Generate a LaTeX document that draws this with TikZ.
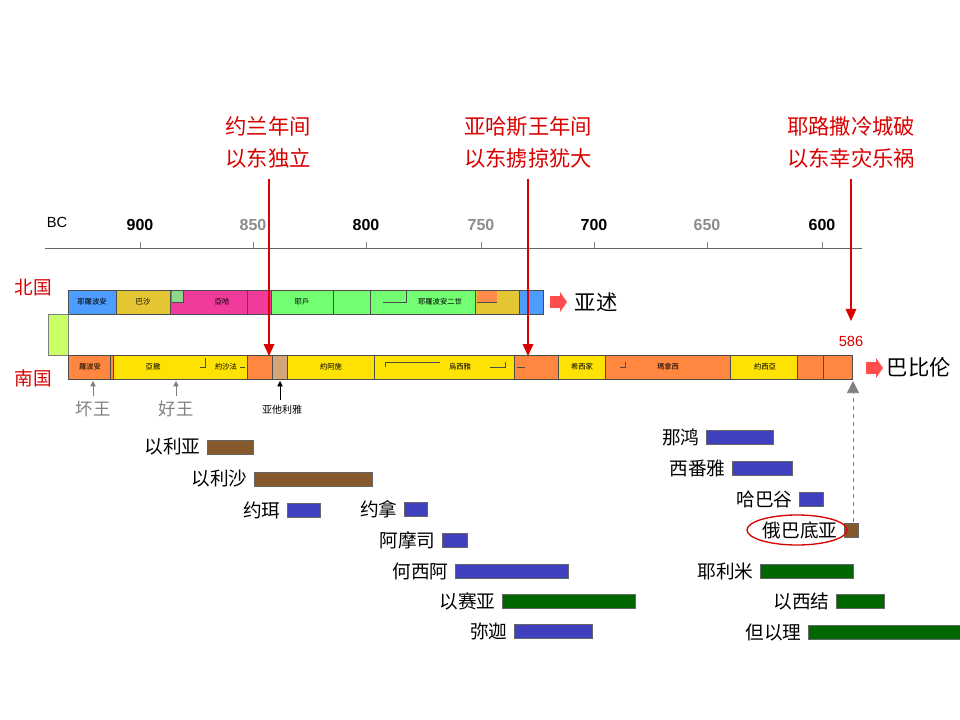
\documentclass[tikz,border=0pt]{standalone}
\usepackage{fontspec}
\usetikzlibrary{arrows.meta}
\setmainfont{Liberation Sans}
\newfontfamily\scfont{Noto Sans CJK SC}
\newfontfamily\tcfont{Noto Sans CJK TC}
\begin{document}
\begin{tikzpicture}[x=0.75pt,y=-0.75pt,
 seg/.style={draw=black!70,line width=0.5pt},
 lab/.style={font=\scfont\fontsize{14}{16}\selectfont,anchor=east,inner sep=1pt},
 tiny/.style={font=\tcfont\fontsize{5.5}{6}\selectfont,inner sep=0},
 top/.style={font=\scfont\fontsize{16}{24}\selectfont,text=red!85!black,align=center},
 redarr/.style={draw=red!85!black,line width=0.8pt,-{Triangle[width=8pt,length=9pt]}},
 pb/.style={line width=0.4pt,draw=black!60}]
\useasboundingbox (0,0) rectangle (960,720);
% axis
\draw[black!60] (45,248) -- (862,248);
\foreach \x/\l/\c in {140/900/black,253/850/black!45,366/800/black,481/750/black!45,594/700/black,707/650/black!45,822/600/black}{
 \draw[black!50] (\x,248) -- (\x,242);
 \node[font=\fontsize{12}{14}\selectfont\bfseries,text=\c] at (\x,225) {\l};}
\node[font=\fontsize{11}{13}\selectfont] at (57,222) {BC};
% north bar
\fill[blue!55!cyan!70] (68,290) rectangle (116,314);
\fill[yellow!55!brown] (116,290) rectangle (170,314);
\fill[magenta!70!pink] (170,290) rectangle (271,314);
\fill[green!50!gray!60] (172,290) rectangle (183,302);
\fill[green!55] (271,290) rectangle (475,314);
\fill[yellow!55!brown] (475,290) rectangle (519,314);
\fill[orange!70!red!70] (477,290) rectangle (497,302);
\fill[blue!55!cyan!70] (519,290) rectangle (543,314);
\foreach \x in {116,170,247,271,333,370,475,519}{\draw[seg] (\x,290) -- (\x,314);}
\draw[seg] (68,290) rectangle (543,314);
\draw[seg] (172,302) -- (183,302) -- (183,290);
\draw[seg] (383,302) -- (406,302) -- (406,290);
\draw[seg] (477,302) -- (497,302);
\node[tiny] (n1) at (92,302) {耶羅波安};
\node[tiny] (n2) at (143,302) {巴沙};
\node[tiny] (n3) at (222,302) {亞哈};
\node[tiny] (n4) at (302,302) {耶戶};
\node[tiny] (n5) at (440,302) {耶羅波安二世};
% left block
\fill[green!35!yellow!60] (48,314) rectangle (68,355);
\draw[black!50] (48,314) rectangle (68,355);
% south bar
\fill[orange!75!red!75] (68,355) rectangle (852,379);
\fill[yellow!85!orange] (113,355) rectangle (247,379);
\fill[brown!70] (272,355) rectangle (287,379);
\fill[yellow!85!orange] (287,355) rectangle (514,379);
\fill[yellow!85!orange] (558,355) rectangle (605,379);
\fill[yellow!85!orange] (730,355) rectangle (797,379);
\foreach \x in {110,113,247,272,287,374,514,558,605,730,797,823}{\draw[seg] (\x,355) -- (\x,379);}
\draw[seg] (68,355) rectangle (852,379);
\draw[seg] (200,367) -- (205,367) -- (205,358);
\draw[seg] (245,367) -- (240,367);
\draw[seg] (385,367) -- (385,362) -- (440,362);
\draw[seg] (490,367) -- (505,367) -- (505,362);
\draw[seg] (620,367) -- (625,367) -- (625,362);
\draw[seg] (517,367) -- (525,367);
\node[tiny] (s1) at (90,367) {羅波安};
\node[tiny] (s2) at (153,367) {亞撒};
\node[tiny] (s3) at (226,367) {約沙法};
\node[tiny] (s4) at (331,367) {約阿施};
\node[tiny] (s5) at (460,367) {烏西雅};
\node[tiny] (s6) at (582,367) {希西家};
\node[tiny] (s7) at (668,367) {瑪拿西};
\node[tiny] (s8) at (765,367) {約西亞};
% side labels
\node[font=\scfont\fontsize{14}{16}\selectfont,text=red!85!black] (bei) at (33,288) {北国};
\node[font=\scfont\fontsize{14}{16}\selectfont,text=red!85!black] (nan) at (33,378) {南国};
\fill[red!70] (550,296) rectangle (560,308);
\fill[red!70] (560,292) -- (567,302) -- (560,312) -- cycle;
\node[font=\scfont\fontsize{16}{18}\selectfont,anchor=west] (ys) at (570,302) {亚述};
\fill[red!70] (866,362) rectangle (876,374);
\fill[red!70] (876,358) -- (883,368) -- (876,378) -- cycle;
\node[font=\scfont\fontsize{16}{18}\selectfont,anchor=west] (bb) at (882,367) {巴比伦};
% top labels and arrows
\node[top] (t1) at (268,142) {约兰年间\\以东独立};
\node[top] (t2) at (528,142) {亚哈斯王年间\\以东掳掠犹大};
\node[top] (t3) at (851,142) {耶路撒冷城破\\以东幸灾乐祸};
\coordinate (a1) at (269,356); \coordinate (a2) at (528,356); \coordinate (a3) at (851,321);
\draw[redarr] (t1.south) ++(1,6) -- (a1);
\draw[redarr] (t2.south) ++(0,6) -- (a2);
\draw[redarr] (t3.south) ++(0,6) -- (a3);
\node[font=\fontsize{11}{13}\selectfont,text=red!85!black] (n586) at (851,341) {586};
% small arrows
\node[font=\scfont\fontsize{13}{15}\selectfont,text=black!50] (hw) at (93,409) {坏王};
\node[font=\scfont\fontsize{13}{15}\selectfont,text=black!50] (gw) at (176,409) {好王};
\node[font=\scfont\fontsize{7.5}{9}\selectfont] (atl) at (282,410) {亚他利雅};
\draw[black!50,-{Triangle[width=4pt,length=4pt]}] (hw.north) -- (93,381);
\draw[black!50,-{Triangle[width=4pt,length=4pt]}] (gw.north) -- (176,381);
\draw[black,-{Triangle[width=4pt,length=4pt]}] (atl.north) ++(-2,-1) -- (280,381);
\coordinate (dd) at (853,522);
\draw[black!50,dashed,-{Triangle[width=9pt,length=9pt]}] (dd) -- (853,381);
% prophets
\foreach \n/\e/\y/\b/\c in {
 以利亚/202/447/253/brown!70!black,
 以利沙/249/479/372/brown!70!black,
 约珥/282/510/320/blue!50!gray,
 约拿/399/509/427/blue!50!gray,
 阿摩司/437/540/467/blue!50!gray,
 何西阿/450/571/568/blue!50!gray,
 以赛亚/497/601/635/green!40!black,
 弥迦/509/631/592/blue!50!gray,
 那鸿/701/437/773/blue!50!gray,
 西番雅/727/468/792/blue!50!gray,
 哈巴谷/794/499/823/blue!50!gray,
 俄巴底亚/839/530/858/brown!70!black,
 耶利米/755/571/853/green!40!black,
 以西结/831/601/884/green!40!black,
 但以理/803/632/960/green!40!black}{
 \node[lab] (p\y) at (\e,\y) {\n};
 \fill[\c] ([xshift=4]p\y.east) ++(0,-7) rectangle (\b,\y+7);
 \draw[pb] ([xshift=4]p\y.east) ++(0,-7) rectangle (\b,\y+7);}
\draw[red!85!black,line width=1pt] (797,530) ellipse (50 and 15);
\end{tikzpicture}
\end{document}
